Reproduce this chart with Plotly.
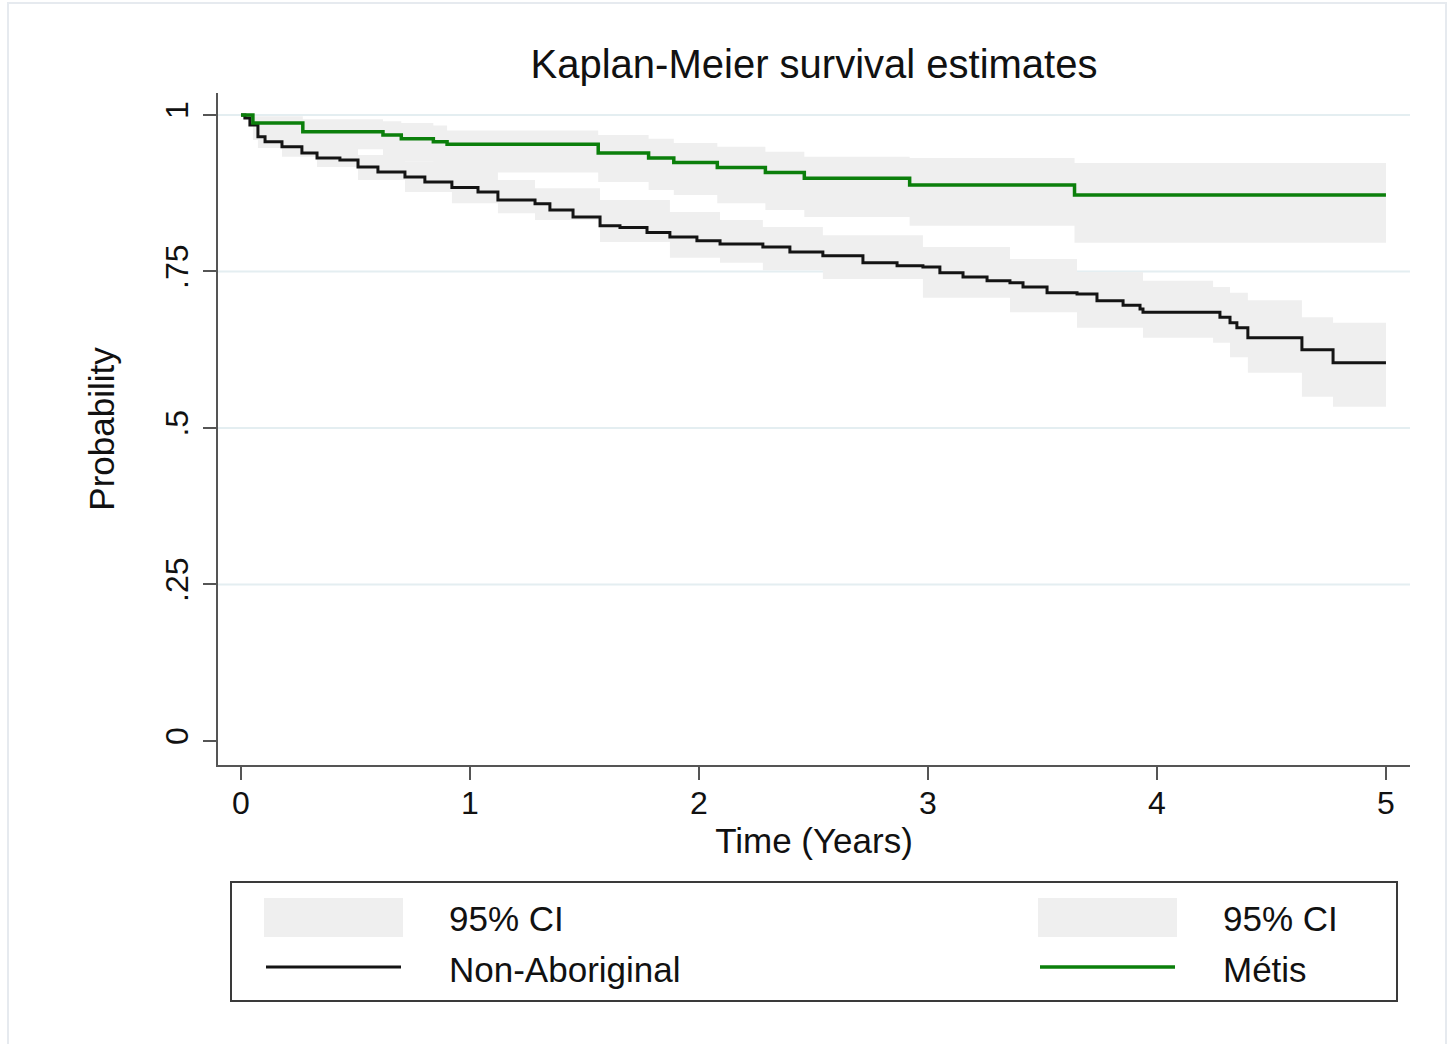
import plotly.graph_objects as go

# Kaplan-Meier survival estimates (time in years)
nonab_time = [0, 0.017, 0.039, 0.074, 0.105, 0.179, 0.266, 0.332, 0.432, 0.511,
              0.598, 0.716, 0.803, 0.921, 1.035, 1.122, 1.284, 1.349, 1.450, 1.568,
              1.655, 1.773, 1.873, 1.991, 2.092, 2.279, 2.397, 2.541, 2.716, 2.865,
              2.978, 3.052, 3.153, 3.258, 3.358, 3.415, 3.520, 3.651, 3.738, 3.852,
              3.926, 3.939, 4.275, 4.319, 4.349, 4.397, 4.633, 4.769, 5.0]
nonab_surv = [1.0, 0.995, 0.984, 0.965, 0.957, 0.949, 0.939, 0.931, 0.928, 0.917,
              0.909, 0.901, 0.893, 0.884, 0.877, 0.864, 0.858, 0.848, 0.837, 0.823,
              0.820, 0.812, 0.805, 0.799, 0.794, 0.789, 0.781, 0.775, 0.764, 0.759,
              0.757, 0.748, 0.741, 0.735, 0.732, 0.725, 0.716, 0.714, 0.703, 0.696,
              0.690, 0.685, 0.677, 0.668, 0.660, 0.644, 0.625, 0.604, 0.604]

# pointwise 95% confidence limits, Non-Aboriginal
nonab_ci_time = [0, 0.074, 0.179, 0.332, 0.511, 0.716, 0.921, 1.122, 1.284, 1.568,
                 1.873, 2.092, 2.279, 2.541, 2.978, 3.358, 3.651, 3.939, 4.245, 4.319,
                 4.397, 4.633, 4.769, 5.0]
nonab_ci_upper = [1.0, 0.979, 0.966, 0.950, 0.936, 0.925, 0.909, 0.896, 0.883, 0.864,
                  0.845, 0.832, 0.821, 0.808, 0.789, 0.770, 0.749, 0.735, 0.725, 0.716,
                  0.704, 0.677, 0.668, 0.668]
nonab_ci_lower = [1.0, 0.947, 0.933, 0.917, 0.896, 0.877, 0.859, 0.843, 0.832, 0.797,
                  0.772, 0.764, 0.752, 0.738, 0.708, 0.685, 0.660, 0.644, 0.636, 0.613,
                  0.588, 0.550, 0.534, 0.534]

# Métis estimates and 95% confidence limits
metis_time = [0, 0.052, 0.27, 0.62, 0.70, 0.84, 0.90, 1.56, 1.78, 1.89, 2.08, 2.29,
              2.46, 2.92, 3.64, 5.0]
metis_surv = [1.0, 0.987, 0.973, 0.968, 0.962, 0.957, 0.953, 0.939, 0.931, 0.924,
              0.916, 0.908, 0.899, 0.888, 0.872, 0.872]
metis_ci_upper = [1.0, 0.998, 0.993, 0.990, 0.987, 0.983, 0.975, 0.968, 0.962, 0.955,
                  0.949, 0.941, 0.933, 0.931, 0.923, 0.923]
metis_ci_lower = [1.0, 0.960, 0.945, 0.935, 0.925, 0.918, 0.908, 0.893, 0.880, 0.872,
                  0.859, 0.848, 0.837, 0.823, 0.796, 0.796]

x_ticks = [0, 1, 2, 3, 4, 5]
y_ticks = [0, 0.25, 0.5, 0.75, 1]
y_ticktext = ["0", ".25", ".5", ".75", "1"]
y_gridlines = [0.25, 0.5, 0.75, 1]

legend_labels = ["95% CI", "Non-Aboriginal", "95% CI", "Métis"]

# page geometry
W, H = 1453, 1044
L, R, T, B = 218, 43, 93, 279
PW, PH = W - L - R, H - T - B
FONT = "Liberation Sans, Arial, Helvetica, sans-serif"
CI_FILL = "#efefef"
BLACK = "#141414"
GREEN = "#0b7f0b"
AXIS = "#555555"


def px(xp):
    """pixel column -> paper x"""
    return (xp - L) / PW


def py(yp):
    """pixel row (from top) -> paper y"""
    return (H - B - yp) / PH


fig = go.Figure()


def add_band(t, lo, hi):
    fig.add_trace(go.Scatter(x=t, y=lo, mode="lines", line=dict(width=0, shape="hv"),
                             hoverinfo="skip", showlegend=False))
    fig.add_trace(go.Scatter(x=t, y=hi, mode="lines", line=dict(width=0, shape="hv"),
                             fill="tonexty", fillcolor=CI_FILL,
                             hoverinfo="skip", showlegend=False))


add_band(nonab_ci_time, nonab_ci_lower, nonab_ci_upper)
add_band(metis_time, metis_ci_lower, metis_ci_upper)

fig.add_trace(go.Scatter(x=nonab_time, y=nonab_surv, mode="lines",
                         line=dict(color=BLACK, width=3, shape="hv"),
                         name="Non-Aboriginal", showlegend=False))
fig.add_trace(go.Scatter(x=metis_time, y=metis_surv, mode="lines",
                         line=dict(color=GREEN, width=3.5, shape="hv"),
                         name="Métis", showlegend=False))

shapes = []
annotations = []

# horizontal gridlines (none at the zero line)
for g in y_gridlines:
    shapes.append(dict(type="line", xref="paper", yref="y", x0=0, x1=1, y0=g, y1=g,
                       line=dict(color="#e4eef1", width=2), layer="below"))

# outer graph frame
shapes.append(dict(type="rect", xref="paper", yref="paper",
                   x0=px(8), x1=px(1446), y0=py(1070), y1=py(3),
                   line=dict(color="#e6eaef", width=2), layer="below"))

# legend box
shapes.append(dict(type="rect", xref="paper", yref="paper",
                   x0=px(231), x1=px(1397), y0=py(1001), y1=py(882),
                   line=dict(color="#3a3a3a", width=2), fillcolor="white"))

# legend keys: two columns, CI swatch on top and line below
for (kx, color, lw, lab_ci, lab_line) in [(264, BLACK, 3, legend_labels[0], legend_labels[1]),
                                           (1038, GREEN, 3.5, legend_labels[2], legend_labels[3])]:
    shapes.append(dict(type="rect", xref="paper", yref="paper",
                       x0=px(kx), x1=px(kx + 139), y0=py(937), y1=py(898),
                       line=dict(width=0), fillcolor=CI_FILL))
    shapes.append(dict(type="line", xref="paper", yref="paper",
                       x0=px(kx + 2), x1=px(kx + 137), y0=py(967), y1=py(967),
                       line=dict(color=color, width=lw)))
    annotations.append(dict(xref="paper", yref="paper", x=px(kx + 183), y=py(918),
                            text=lab_ci, showarrow=False, xanchor="left", yanchor="middle",
                            font=dict(size=35, color="#111111", family=FONT)))
    annotations.append(dict(xref="paper", yref="paper", x=px(kx + 183), y=py(969),
                            text=lab_line, showarrow=False, xanchor="left", yanchor="middle",
                            font=dict(size=35, color="#111111", family=FONT)))

fig.update_layout(
    width=W, height=H,
    margin=dict(l=L, r=R, t=T, b=B, pad=0),
    paper_bgcolor="white", plot_bgcolor="white",
    font=dict(family=FONT, color="#111111"),
    title=dict(text="Kaplan-Meier survival estimates", x=0.5, xref="paper",
               y=1 - 64 / H, yref="container", xanchor="center", yanchor="middle",
               font=dict(size=40, family=FONT, color="#111111")),
    xaxis=dict(range=[-0.1004, 5.105], tickvals=x_ticks, ticks="outside", ticklen=13,
               tickwidth=2, tickcolor=AXIS, showline=True, linecolor=AXIS, linewidth=2,
               showgrid=False, zeroline=False, tickfont=dict(size=32),
               ticklabelstandoff=-4,
               title=dict(text="Time (Years)", font=dict(size=35), standoff=8)),
    yaxis=dict(range=[-0.0383, 1.035], tickvals=y_ticks, ticktext=y_ticktext,
               tickangle=-90, ticks="outside", ticklen=13, tickwidth=2, tickcolor=AXIS,
               showline=True, linecolor=AXIS, linewidth=2, showgrid=False,
               zeroline=False, tickfont=dict(size=32), ticklabelstandoff=2,
               title=dict(text="Probability", font=dict(size=35), standoff=34)),
    shapes=shapes, annotations=annotations, showlegend=False,
)

fig.write_html("out.html")
